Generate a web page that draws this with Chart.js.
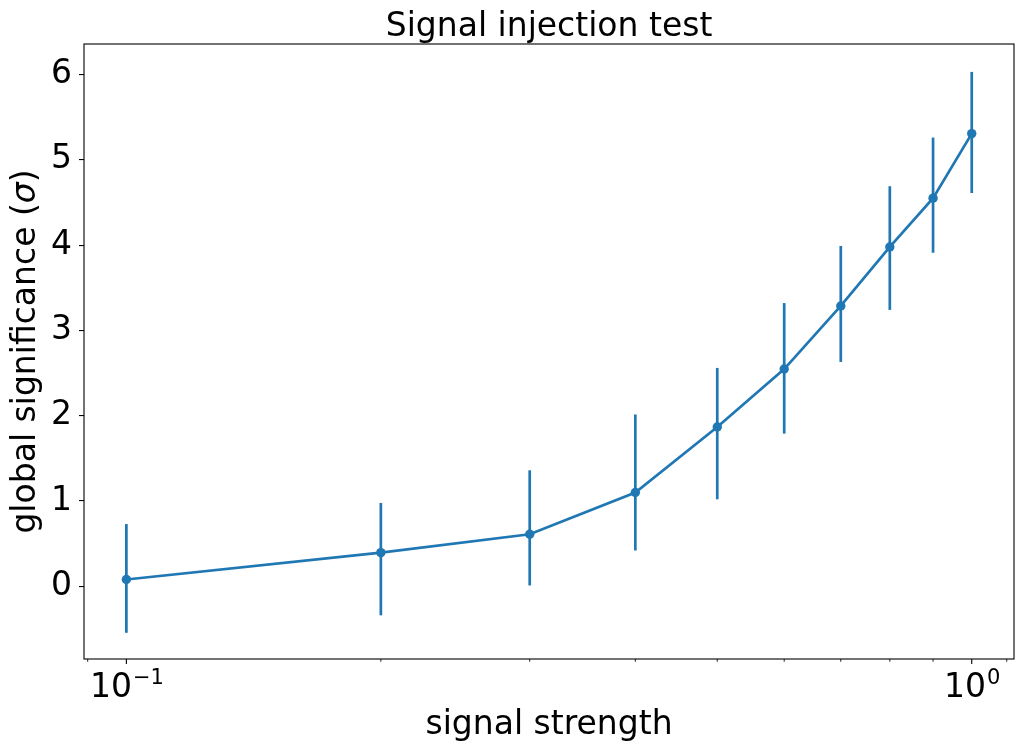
<!DOCTYPE html>
<html>
<head>
<meta charset="utf-8">
<script src="https://cdn.jsdelivr.net/npm/chart.js@4.4.1/dist/chart.umd.min.js"></script>
<style>
  html, body { margin: 0; padding: 0; background: #ffffff; }
  #wrap { width: 1023px; height: 753px; position: relative; }
</style>
</head>
<body>
<div id="wrap"><canvas id="myChart"></canvas></div>
<script>
// values
const strength = [0.1, 0.2, 0.3, 0.4, 0.5, 0.6, 0.7, 0.8, 0.9, 1.0];
const significance = [0.08, 0.395, 0.61, 1.10, 1.867, 2.547, 3.286, 3.978, 4.55, 5.307];
const errLow = [-0.545, -0.34, 0.01, 0.42, 1.02, 1.79, 2.63, 3.24, 3.91, 4.61];
const errHigh = [0.73, 0.977, 1.36, 2.014, 2.56, 3.32, 3.99, 4.69, 5.26, 6.03];

const yTicks = [0, 1, 2, 3, 4, 5, 6];
const xMajorTicks = [0.1, 1];
const xMajorExp = ['\u22121', '0'];
const xMinorTicks = [0.09, 0.2, 0.3, 0.4, 0.5, 0.6, 0.7, 0.8, 0.9, 1.1];

const blue = '#1f77b4';
const fontFam = "'DejaVu Sans', sans-serif";

// error bars, frame, x ticks and all the text, drawn against the chart scales
const mplLook = {
  id: 'mplLook',
  beforeDatasetsDraw(chart) {
    const { ctx, chartArea, scales } = chart;
    ctx.save();
    ctx.beginPath();
    ctx.rect(chartArea.left, chartArea.top, chartArea.right - chartArea.left, chartArea.bottom - chartArea.top);
    ctx.clip();
    ctx.strokeStyle = blue;
    ctx.lineWidth = 2.7;
    strength.forEach((s, i) => {
      const x = scales.x.getPixelForValue(s);
      ctx.beginPath();
      ctx.moveTo(x, scales.y.getPixelForValue(errLow[i]));
      ctx.lineTo(x, scales.y.getPixelForValue(errHigh[i]));
      ctx.stroke();
    });
    ctx.restore();
  },
  afterDraw(chart) {
    const { ctx, chartArea, scales } = chart;
    const { left, right, top, bottom } = chartArea;
    ctx.save();

    // axes box
    ctx.strokeStyle = '#000';
    ctx.lineWidth = 1.1;
    ctx.strokeRect(left, top, right - left, bottom - top);

    // x tick marks
    xMinorTicks.forEach(v => {
      const x = scales.x.getPixelForValue(v);
      if (x < left - 0.5 || x > right + 0.5) return;
      ctx.lineWidth = 0.85;
      ctx.beginPath();
      ctx.moveTo(x, bottom);
      ctx.lineTo(x, bottom + 2.8);
      ctx.stroke();
    });
    ctx.fillStyle = '#000';
    xMajorTicks.forEach((v, i) => {
      const x = scales.x.getPixelForValue(v);
      ctx.lineWidth = 1.1;
      ctx.beginPath();
      ctx.moveTo(x, bottom);
      ctx.lineTo(x, bottom + 4.9);
      ctx.stroke();
      // label 10^exp
      ctx.font = '33px ' + fontFam;
      const wBase = ctx.measureText('10').width;
      ctx.font = '21px ' + fontFam;
      const wExp = ctx.measureText(xMajorExp[i]).width;
      const x0 = x - (wBase + wExp) / 2;
      ctx.textAlign = 'left';
      ctx.textBaseline = 'alphabetic';
      ctx.font = '33px ' + fontFam;
      ctx.fillText('10', x0, bottom + 38);
      ctx.font = '21px ' + fontFam;
      ctx.fillText(xMajorExp[i], x0 + wBase + 1, bottom + 25);
    });

    // title
    const cx = (left + right) / 2;
    ctx.font = '33px ' + fontFam;
    ctx.textAlign = 'center';
    ctx.fillText('Signal injection test', cx, top - 8);

    // x axis label
    ctx.fillText('signal strength', cx, bottom + 75);

    // y axis label with italic sigma
    const partA = 'global significance (';
    const partB = '\u03c3';
    const partC = ')';
    ctx.font = '33px ' + fontFam;
    const wA = ctx.measureText(partA).width;
    const wC = ctx.measureText(partC).width;
    ctx.font = 'italic 33px ' + fontFam;
    const wB = ctx.measureText(partB).width;
    const total = wA + wB + wC;
    ctx.translate(35, (top + bottom) / 2);
    ctx.rotate(-Math.PI / 2);
    ctx.textAlign = 'left';
    let px = -total / 2;
    ctx.font = '33px ' + fontFam;
    ctx.fillText(partA, px, 0);
    px += wA;
    ctx.font = 'italic 33px ' + fontFam;
    ctx.fillText(partB, px, 0);
    px += wB;
    ctx.font = '33px ' + fontFam;
    ctx.fillText(partC, px, 0);

    ctx.restore();
  }
};

const config = {
  type: 'line',
  data: {
    datasets: [{
      label: 'significance',
      data: strength.map((s, i) => ({ x: s, y: significance[i] })),
      borderColor: blue,
      backgroundColor: blue,
      borderWidth: 2.7,
      pointRadius: 4.7,
      pointBorderWidth: 0,
      pointBackgroundColor: blue,
      tension: 0,
      fill: false
    }]
  },
  options: {
    responsive: true,
    maintainAspectRatio: false,
    animation: false,
    layout: { padding: { top: 44, right: 9, left: 0, bottom: 0 } },
    plugins: {
      legend: { display: false },
      tooltip: { enabled: false },
      title: { display: false }
    },
    scales: {
      x: {
        type: 'logarithmic',
        min: 0.0891,
        max: 1.122,
        grid: { display: false },
        border: { display: false },
        ticks: { display: false },
        afterFit: (scale) => { scale.height = 94; }
      },
      y: {
        type: 'linear',
        min: -0.852,
        max: 6.357,
        afterBuildTicks: (scale) => { scale.ticks = yTicks.map(v => ({ value: v })); },
        grid: {
          drawOnChartArea: false,
          drawTicks: true,
          tickLength: 5,
          color: '#000',
          lineWidth: 1.1
        },
        border: { display: false },
        ticks: {
          color: '#000',
          padding: 7,
          font: { family: fontFam, size: 33 }
        },
        afterFit: (scale) => { scale.width = 84; }
      }
    }
  },
  plugins: [mplLook]
};

const ctx = document.getElementById('myChart').getContext('2d');
const myChart = new Chart(ctx, config);
</script>
</body>
</html>
